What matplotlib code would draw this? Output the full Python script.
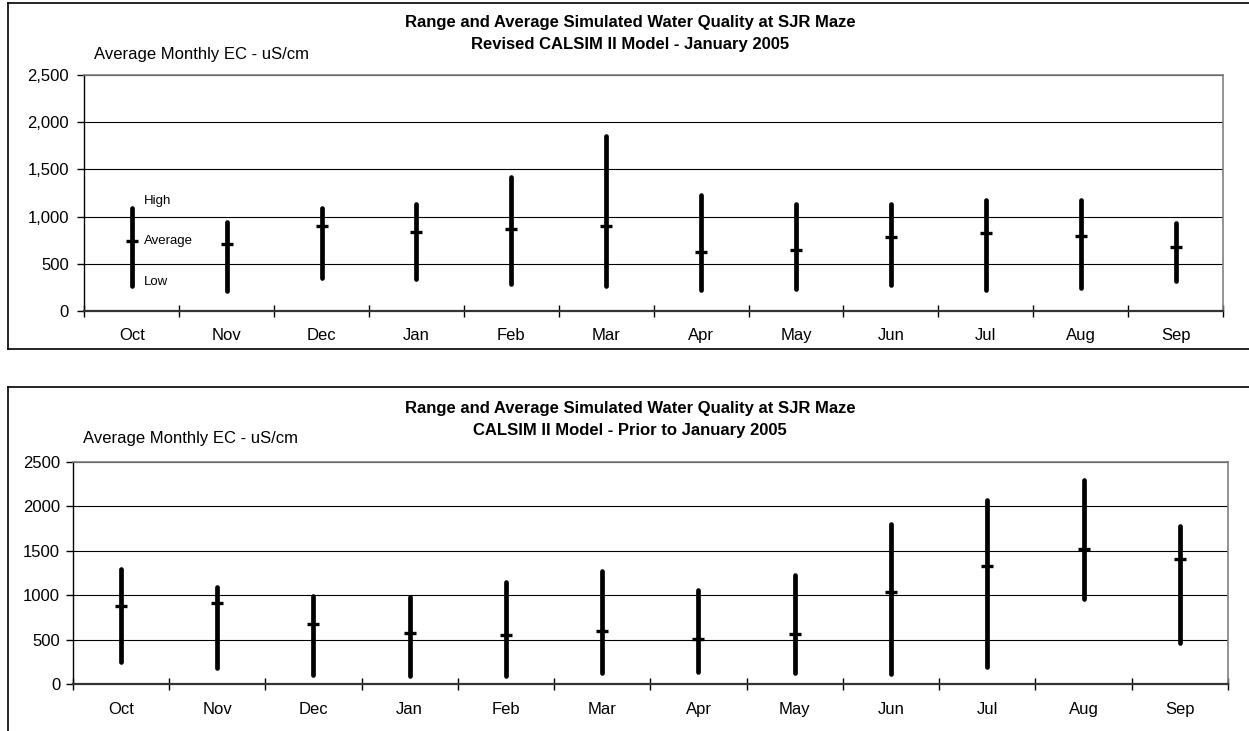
import matplotlib
matplotlib.use('Agg')
import matplotlib.pyplot as plt
from matplotlib.lines import Line2D
from matplotlib.ticker import FuncFormatter

plt.rcParams['font.family'] = ['Liberation Sans', 'DejaVu Sans']

# Monate (Wasserjahr Okt-Sep)
months = ['Oct', 'Nov', 'Dec', 'Jan', 'Feb', 'Mar',
          'Apr', 'May', 'Jun', 'Jul', 'Aug', 'Sep']

# Revised CALSIM II Model - January 2005
rev_high = [1089, 940, 1096, 1131, 1415, 1855, 1230, 1128, 1135, 1177, 1174, 936]
rev_avg = [745, 709, 901, 837, 872, 901, 621, 642, 780, 823, 791, 677]
rev_low = [262, 213, 351, 337, 280, 262, 223, 234, 273, 223, 241, 319]

# CALSIM II Model - Prior to January 2005
prior_high = [1293, 1095, 990, 983, 1147, 1267, 1054, 1222, 1794, 2070, 2291, 1775]
prior_avg = [874, 908, 680, 572, 549, 602, 512, 561, 1035, 1330, 1513, 1401]
prior_low = [250, 179, 105, 93, 93, 123, 142, 131, 112, 191, 960, 467]

yticks = [0, 500, 1000, 1500, 2000, 2500]
title1 = 'Range and Average Simulated Water Quality at SJR Maze'
ylab = 'Average Monthly EC - uS/cm'

W, H = 1249, 731
fig = plt.figure(figsize=(W / 100, H / 100), dpi=100)


def fx(px):
    return px / W


def fy(py):
    return 1 - py / H


def frame(top, bottom):
    # Rahmen um jedes Diagramm (rechts/unten abgeschnitten wie im Original)
    kw = dict(color='black', linewidth=1.2, transform=fig.transFigure)
    fig.add_artist(Line2D([fx(8), fx(W)], [fy(top), fy(top)], **kw))
    fig.add_artist(Line2D([fx(8), fx(8)], [fy(top), fy(bottom)], **kw))
    if bottom < H:
        fig.add_artist(Line2D([fx(8), fx(W)], [fy(bottom), fy(bottom)], **kw))


def chart(rect, high, avg, low, comma, xpad, ypad):
    ax = fig.add_axes(rect)
    x = list(range(len(months)))
    ax.vlines(x, low, high, color='black', linewidth=3.4, capstyle='round', zorder=3)
    ax.plot(x, avg, linestyle='none', marker='_', markersize=8, markeredgewidth=2.4,
            color='black', zorder=4)
    ax.set_xlim(-0.5, len(months) - 0.5)
    ax.set_ylim(0, 2500)
    ax.set_yticks(yticks)
    if comma:
        ax.yaxis.set_major_formatter(FuncFormatter(lambda v, p: f'{int(v):,}'))
    ax.set_xticks([i - 0.5 for i in range(len(months) + 1)])
    ax.set_xticklabels([])
    ax.set_xticks(x, minor=True)
    ax.set_xticklabels(months, minor=True)
    ax.tick_params(axis='x', which='major', direction='inout', length=9, width=1)
    ax.tick_params(axis='x', which='minor', length=0, pad=xpad, labelsize=12)
    ax.tick_params(axis='y', direction='out', length=5, width=1, pad=ypad, labelsize=12)
    ax.grid(axis='y', color='black', linewidth=0.8)
    ax.set_axisbelow(True)
    for s in ['top', 'right']:
        ax.spines[s].set_color('#808080')
        ax.spines[s].set_linewidth(1.2)
    ax.spines['left'].set_linewidth(1)
    ax.spines['bottom'].set_linewidth(1.6)
    ax.spines['bottom'].set_color('#333333')
    return ax


# oberes Diagramm
frame(3, 349)
ax1 = chart([fx(84.3), fy(310.7), fx(1223 - 84.3), (310.7 - 75.3) / H],
            rev_high, rev_avg, rev_low, True, 12.5, 6)
fig.text(fx(630), fy(23), title1, ha='center', va='center', fontsize=12, fontweight='bold')
fig.text(fx(630), fy(45), 'Revised CALSIM II Model - January 2005', ha='center', va='center',
         fontsize=12, fontweight='bold')
fig.text(fx(94), fy(55), ylab, ha='left', va='center', fontsize=12)
ax1.text(0.13, 1165, 'High', ha='left', va='center', fontsize=9.5)
ax1.text(0.13, rev_avg[0], 'Average', ha='left', va='center', fontsize=9.5)
ax1.text(0.13, 308, 'Low', ha='left', va='center', fontsize=9.5)

# unteres Diagramm
frame(387, H + 5)
ax2 = chart([fx(72.7), fy(684.3), fx(1228 - 72.7), (684.3 - 461.5) / H],
            prior_high, prior_avg, prior_low, False, 13, 4)
fig.text(fx(630), fy(409), title1, ha='center', va='center', fontsize=12, fontweight='bold')
fig.text(fx(630), fy(431), 'CALSIM II Model - Prior to January 2005', ha='center', va='center',
         fontsize=12, fontweight='bold')
fig.text(fx(83), fy(439), ylab, ha='left', va='center', fontsize=12)

plt.savefig('out.png', dpi=100)
